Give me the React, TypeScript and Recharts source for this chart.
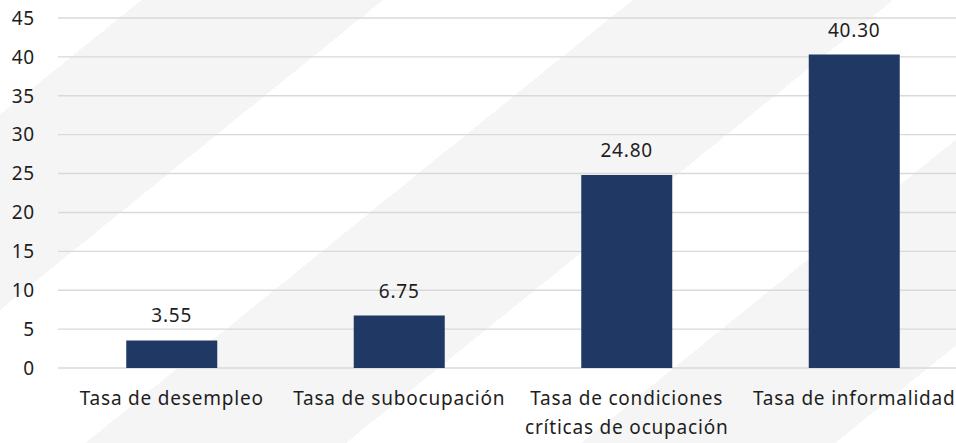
import { BarChart, Bar, XAxis, YAxis, CartesianGrid, LabelList } from "recharts";

// ── Chart data
const CATEGORIES = [
  "Tasa de desempleo",
  "Tasa de subocupación",
  "Tasa de condiciones críticas de ocupación",
  "Tasa de informalidad",
];
const VALUES = [3.55, 6.75, 24.8, 40.3];
const Y_TICKS = [0, 5, 10, 15, 20, 25, 30, 35, 40, 45];

const DATA = CATEGORIES.map((name, i) => ({ name, value: VALUES[i] }));

const FONT = "'Noto Sans', 'Open Sans', sans-serif";
const TEXT_COLOR = "#1e1e1e";
const BAR_COLOR = "#203864";

// stripes in the background of the slide
const STRIPES =
  "linear-gradient(141deg, #fff 0px, #fff 89px, #f5f5f5 89px, #f5f5f5 241px, #fff 241px, #fff 398px, #f5f5f5 398px, #f5f5f5 562px, #fff 562px, #fff 710px, #f5f5f5 710px, #f5f5f5 870px, #fff 870px)";

// split a label into lines of at most maxChars
function wrapWords(text: string, maxChars: number) {
  const lines: string[] = [];
  let cur = "";
  for (const w of text.split(" ")) {
    const next = cur ? cur + " " + w : w;
    if (next.length > maxChars && cur) {
      lines.push(cur);
      cur = w;
    } else {
      cur = next;
    }
  }
  if (cur) lines.push(cur);
  return lines;
}

function CategoryTick({ x, y, payload }: any) {
  const lines = wrapWords(String(payload.value), 22);
  return (
    <g>
      {lines.map((l, i) => (
        <text
          key={i}
          x={x}
          y={y + 37 + i * 29}
          textAnchor="middle"
          fill={TEXT_COLOR}
          fontSize={19}
          fontFamily={FONT}
          style={{ letterSpacing: "0.8px" }}
        >
          {l}
        </text>
      ))}
    </g>
  );
}

export default function App() {
  return (
    <div
      style={{
        position: "absolute",
        left: 0,
        top: 0,
        width: 956,
        height: 443,
        overflow: "hidden",
        background: STRIPES,
      }}
    >
      <BarChart
        width={968}
        height={443}
        data={DATA}
        margin={{ top: 18, right: 0, left: 0, bottom: 0 }}
        barCategoryGap="30%"
      >
        <CartesianGrid vertical={false} stroke="#d9d9d9" strokeWidth={1.4} />
        <XAxis
          dataKey="name"
          axisLine={false}
          tickLine={false}
          tickSize={0}
          tickMargin={0}
          interval={0}
          height={75}
          tick={<CategoryTick />}
        />
        <YAxis
          domain={[0, 45]}
          ticks={Y_TICKS}
          width={58}
          axisLine={false}
          tickLine={false}
          tickSize={0}
          tickMargin={23}
          tick={{ fontSize: 19, fill: TEXT_COLOR, fontFamily: FONT, style: { letterSpacing: "0.8px" } }}
        />
        <Bar dataKey="value" fill={BAR_COLOR} isAnimationActive={false}>
          <LabelList
            dataKey="value"
            position="top"
            offset={18}
            formatter={(v: any) => Number(v).toFixed(2)}
            style={{ fontSize: 19, fill: TEXT_COLOR, fontFamily: FONT, letterSpacing: "0.8px" }}
          />
        </Bar>
      </BarChart>
    </div>
  );
}
